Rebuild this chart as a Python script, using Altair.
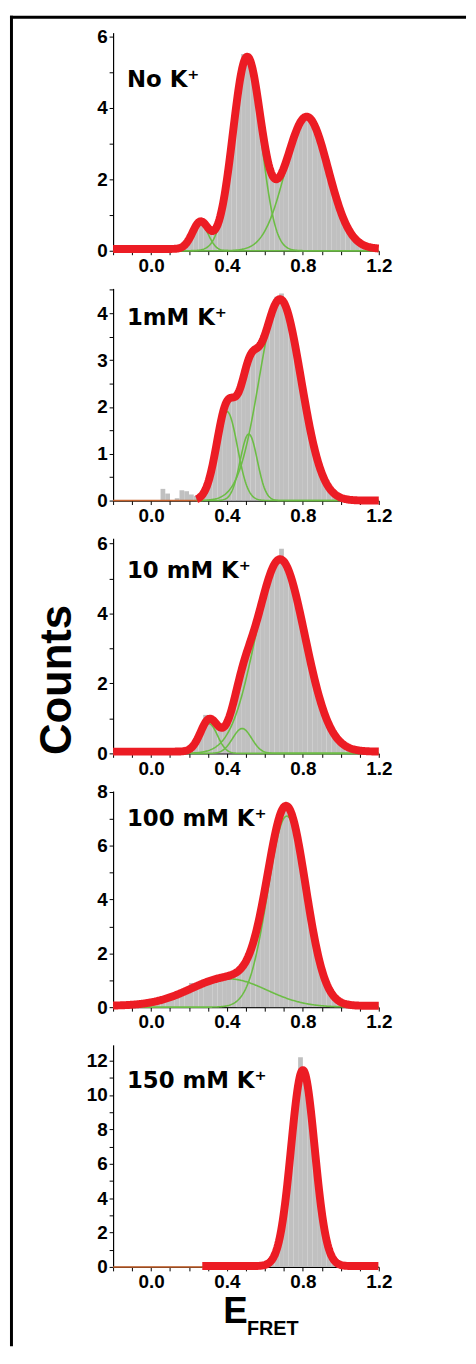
import altair as alt
import numpy as np
import pandas as pd

RED = "#ec1c24"
GREEN = "#6cbd45"
GRAY = "#c0c0c0"
THIN = "#c8642e"
AXIS_FONT = "Liberation Sans"
LABEL_FONT = "DejaVu Sans"

BIN_W = 0.025

panel_labels = ["No K⁺", "1mM K⁺", "10 mM K⁺", "100 mM K⁺", "150 mM K⁺"]

# histogram: first bin edge and bar heights (bin width 0.025)
hist_start = [0.0, 0.0, 0.15, -0.2, 0.6]
hist_p1 = [0.15, 0.05, 0, 0, 0.1, 0.02, 0.05, 0.17, 0.4, 0.66, 0.88, 0.68, 0.52, 0.55,
           0.87, 1.51, 2.43, 3.5, 4.5, 5.5, 5.4, 4.97, 4.18, 3.3, 2.54, 2.07, 1.96, 2.12,
           2.45, 2.86, 3.25, 3.55, 3.69, 3.66, 3.44, 3.09, 2.64, 2.15, 1.67, 1.24, 0.87,
           0.58, 0.37, 0.22, 0.13, 0.07, 0.03, 0.01]
hist_p2 = [0, 0, 0.25, 0.15, 0, 0.05, 0.22, 0.2, 0.13, 0.1, 0.1, 0.23, 0.56, 1.02, 1.58,
           2.0, 2.17, 2.21, 2.32, 2.65, 3.01, 3.18, 3.26, 3.41, 3.7, 4.03, 4.35, 4.42,
           4.11, 3.75, 3.25, 2.66, 2.09, 1.55, 1.08, 0.72, 0.46, 0.28, 0.16, 0.09, 0.04,
           0.02, 0.01]
hist_p3 = [0.01, 0.03, 0.1, 0.3, 0.58, 1.1, 0.94, 0.84, 0.75, 0.76, 1.0, 1.46, 2.03, 2.54,
           2.97, 3.37, 3.85, 4.34, 4.83, 5.21, 5.45, 5.85, 5.33, 4.99, 4.51, 3.9, 3.27,
           2.65, 2.06, 1.53, 1.1, 0.78, 0.52, 0.33, 0.21, 0.13, 0.07, 0.04, 0.02, 0.01]
hist_p4 = [0.01, 0.02, 0.03, 0.03, 0.05, 0.07, 0.09, 0.11, 0.15, 0.19, 0.23, 0.29, 0.35,
           0.42, 0.49, 0.6, 0.9, 0.85, 0.8, 0.87, 0.93, 0.98, 1.03, 1.07, 1.12, 1.19, 1.31,
           1.5, 1.83, 2.32, 2.99, 3.84, 4.8, 5.79, 6.64, 7.23, 7.44, 7.18, 6.55, 5.62,
           4.53, 3.45, 2.45, 1.65, 1.05, 0.62, 0.35, 0.19, 0.09, 0.04, 0.02, 0.01]
hist_p5 = [0.09, 0.29, 0.83, 1.95, 3.93, 6.63, 9.38, 12.2, 11.2, 9.38, 6.63, 3.93, 1.95,
           0.83, 0.29, 0.09]
hists = [hist_p1, hist_p2, hist_p3, hist_p4, hist_p5]

# fitted Gaussian components: centre, amplitude, width
fit_centers = [[0.26, 0.505, 0.82], [0.40, 0.515, 0.68], [0.305, 0.48, 0.68],
               [0.41, 0.715], [0.80]]
fit_amps = [[0.75, 5.3, 3.7], [1.9, 1.42, 4.3], [0.85, 0.71, 5.5], [1.05, 7.1], [11.4]]
fit_sigmas = [[0.042, 0.074, 0.113], [0.055, 0.045, 0.11], [0.045, 0.05, 0.13],
              [0.2, 0.1], [0.062]]
fit_offset = [0.05, 0.0, 0.05, 0.05, 0.05]
fit_xmin = [-0.2, 0.24, -0.2, -0.2, 0.27]
thin_xmax = [None, 0.26, None, None, 0.28]

y_max = [6.1, 4.53, 6.15, 8.03, 12.92]
y_label_step = [2, 1, 2, 2, 2]
y_tick_step = [1, 0.5, 1, 1, 1]
heights = [220, 214, 217, 218, 224]
label_y = [55, 37, 40, 35, 44]

x_tick_values = [-0.2, -0.1, 0.0, 0.1, 0.2, 0.3, 0.4, 0.5, 0.6, 0.7, 0.8, 0.9, 1.0, 1.1, 1.2]
W = 268


def one(extra):
    return alt.Chart(alt.Data(values=[extra]))


def panel(i):
    h = hists[i]
    x0 = [round(hist_start[i] + k * BIN_W, 4) for k in range(len(h))]
    bars_df = pd.DataFrame({"x": x0, "x_end": [v + BIN_W for v in x0], "y": h,
                            "base": [0.0] * len(h)})

    xs = np.round(np.arange(fit_xmin[i], 1.2 + 1e-9, 0.004), 4)
    total = np.full(xs.shape, fit_offset[i], dtype=float)
    comps = []
    for j, (c, a, s) in enumerate(zip(fit_centers[i], fit_amps[i], fit_sigmas[i])):
        g = a * np.exp(-((xs - c) ** 2) / (2 * s * s))
        total = total + g
        comps.append(pd.DataFrame({"x": xs, "y": g, "comp": f"g{j}"}))
    comp_df = pd.concat(comps, ignore_index=True)
    fit_df = pd.DataFrame({"x": xs, "y": total})

    xscale = alt.Scale(domain=[-0.2, 1.2], nice=False, zero=False)
    yscale = alt.Scale(domain=[0, y_max[i]], nice=False)
    ls = y_label_step[i]
    yvals = [float(v) for v in np.round(np.arange(0, y_max[i] + 1e-9, y_tick_step[i]), 2)]

    xaxis = alt.Axis(values=x_tick_values, title=None,
                     labelExpr="(round(datum.value * 10) % 4 == 0 && datum.value > -0.05) ? format(datum.value, '.1f') : ''")
    yaxis = alt.Axis(values=yvals, title=None,
                     labelExpr=f"datum.value % {ls} == 0 ? format(datum.value, '.0f') : ''")
    X = alt.X("x:Q", scale=xscale, axis=xaxis)
    Y = alt.Y("y:Q", scale=yscale, axis=yaxis)

    bars = alt.Chart(bars_df).mark_bar(color=GRAY, strokeWidth=0).encode(
        x=X, x2="x_end:Q", y=Y, y2="base:Q")
    greens = alt.Chart(comp_df).mark_line(color=GREEN, strokeWidth=1.6).encode(
        x=X, y=Y, detail="comp:N")
    red = alt.Chart(fit_df).mark_line(color=RED, strokeWidth=8, strokeCap="butt",
                                      strokeJoin="round").encode(x=X, y=Y)
    layers = [bars]
    if thin_xmax[i] is not None:
        thin_df = pd.DataFrame({"x": [-0.2, thin_xmax[i]], "y": [0.0, 0.0]})
        layers.append(alt.Chart(thin_df).mark_line(color=THIN, strokeWidth=1.5).encode(
            x=X, y=Y))
    layers += [greens, red]

    layers.append(one({"t": panel_labels[i]}).mark_text(
        align="left", baseline="alphabetic", font=LABEL_FONT, fontSize=23,
        fontWeight="bold", color="black").encode(
        x=alt.value(14), y=alt.value(label_y[i]), text="t:N"))

    if i == 0:
        layers.append(one({}).mark_rule(color="black", strokeWidth=3).encode(
            x=alt.value(-104), x2=alt.value(356), y=alt.value(-15.5)))
        layers.append(one({}).mark_rule(color="black", strokeWidth=3).encode(
            x=alt.value(-102.5), y=alt.value(-17), y2=alt.value(1325)))
    if i == 2:
        layers.append(one({"t": "Counts"}).mark_text(
            angle=270, align="center", baseline="alphabetic", font=AXIS_FONT,
            fontSize=44, fontWeight="bold", color="black").encode(
            x=alt.value(-42), y=alt.value(143), text="t:N"))
    if i == 4:
        layers.append(one({"t": "E"}).mark_text(
            align="left", baseline="alphabetic", font=AXIS_FONT, fontSize=37,
            fontWeight="bold", color="black").encode(
            x=alt.value(111), y=alt.value(281), text="t:N"))
        layers.append(one({"t": "FRET"}).mark_text(
            align="left", baseline="alphabetic", font="Liberation Sans Narrow, Liberation Sans",
            fontSize=20, fontWeight="bold", color="black").encode(
            x=alt.value(135), y=alt.value(293), text="t:N"))

    return alt.layer(*layers).properties(width=W, height=heights[i])


chart = alt.vconcat(*[panel(i) for i in range(5)], spacing=38, bounds="flush").properties(
    padding=0, background="white"
).configure_view(stroke="transparent", strokeWidth=0).configure_axis(
    labelOverlap=False, labelFlush=False, labelBound=False, labelFont=AXIS_FONT,
    labelFontWeight="bold", labelColor="black", grid=False, tickSize=4,
    labelPadding=2, domainColor="black", tickColor="black", domainWidth=1.2,
    tickWidth=1
).configure_axisX(labelFontSize=19).configure_axisY(labelFontSize=19)

chart.save("out.html", embed_options={"renderer": "svg", "actions": False})
